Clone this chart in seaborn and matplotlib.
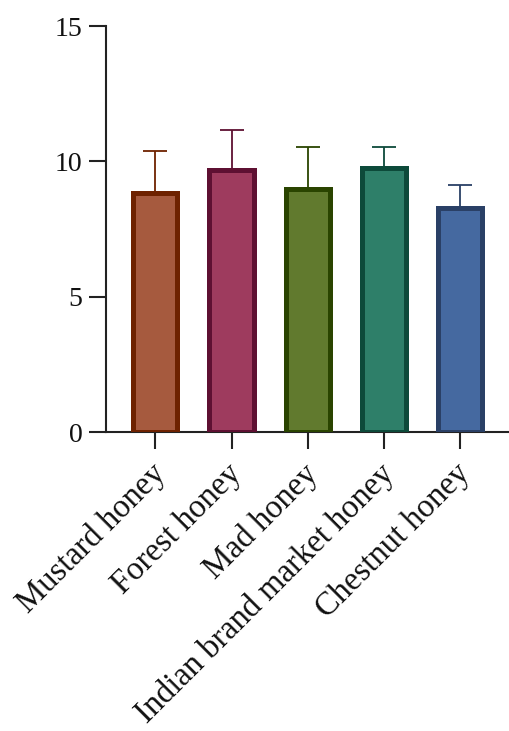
import matplotlib
matplotlib.use("Agg")
import matplotlib.pyplot as plt
import matplotlib.transforms as mtransforms
import seaborn as sns
import pandas as pd
import numpy as np

categories = ["Mustard honey", "Forest honey", "Mad honey", "Indian brand market honey", "Chestnut honey"]
means = [8.82, 9.68, 8.97, 9.76, 8.27]
errors = [1.56, 1.47, 1.56, 0.77, 0.85]
fill_colors = ["#A65A3E", "#9E3B5E", "#617A2E", "#2E7F69", "#4569A0"]
edge_colors = ["#6E2200", "#5E1032", "#2A4400", "#0D4A3A", "#2A4066"]
yticks = [0, 5, 10, 15]

sns.set_style("ticks")
plt.rcParams["font.family"] = ["Liberation Serif", "DejaVu Serif"]

df = pd.DataFrame({"cat": categories, "val": means})

fig = plt.figure(figsize=(5.10, 7.31), dpi=100)
ax = fig.add_axes([0.2078, 0.4086, 0.7922, 0.5558])

sns.barplot(data=df, x="cat", y="val", hue="cat", palette=fill_colors,
            order=categories, hue_order=categories, dodge=False, saturation=1,
            width=0.58, errorbar=None, legend=False, ax=ax, zorder=3)

for patch, ec in zip(ax.patches, edge_colors):
    patch.set_edgecolor(ec)
    patch.set_linewidth(3.6)

for i, (m, e, ec) in enumerate(zip(means, errors, edge_colors)):
    ax.errorbar([i], [m], yerr=[[0], [e]], fmt="none", ecolor=ec,
                elinewidth=1.3, capsize=8.5, capthick=1.3, zorder=2)

ax.set_ylim(0, 15)
ax.set_xlim(-0.65, 4.66)
ax.set_yticks(yticks)
ax.set_yticklabels([str(t) for t in yticks])
ax.set_xlabel("")
ax.set_ylabel("")

for s in ["top", "right"]:
    ax.spines[s].set_visible(False)
for s in ["left", "bottom"]:
    ax.spines[s].set_linewidth(1.5)
    ax.spines[s].set_color("#222222")

ax.tick_params(axis="both", length=12, width=1.5, color="#222222",
               labelcolor="#111111")
ax.tick_params(axis="y", pad=5, labelsize=20)
ax.tick_params(axis="x", pad=6, labelsize=23.5)
offset = mtransforms.ScaledTranslation(6 / 100, -12 / 100, fig.dpi_scale_trans)
for lbl in ax.get_xticklabels():
    lbl.set_rotation(45)
    lbl.set_ha("right")
    lbl.set_va("center")
    lbl.set_rotation_mode("anchor")
    lbl.set_transform(lbl.get_transform() + offset)

fig.savefig("out.png", dpi=100)
